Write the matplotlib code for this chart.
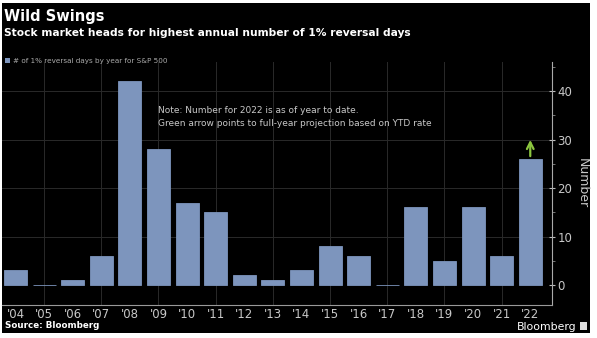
import numpy as np
import matplotlib.pyplot as plt
from matplotlib.patches import Rectangle

# reversal days per year, 2022 is year to date
years = ["'04", "'05", "'06", "'07", "'08", "'09", "'10", "'11", "'12", "'13",
         "'14", "'15", "'16", "'17", "'18", "'19", "'20", "'21", "'22"]
days = [3, 0, 1, 6, 42, 28, 17, 15, 2, 1, 3, 8, 6, 0, 16, 5, 16, 6, 26]
projection_2022 = 30

bar_color = "#7d95bd"
text_grey = "#c8c8c8"
grid_grey = "#2a2a2a"

fig = plt.figure(figsize=(5.97, 3.38), dpi=100, facecolor="white")
fig.patches.append(Rectangle((2 / 597, 0.015), 588 / 597, 0.976,
                             transform=fig.transFigure, facecolor="black",
                             edgecolor="none", zorder=-10))

ax = fig.add_axes([2 / 597, 1 - 305 / 338, 550 / 597, 243 / 338])
ax.set_facecolor("black")

x = np.arange(len(years))
ax.bar(x, days, width=0.8, color=bar_color, edgecolor=bar_color, linewidth=0.6, zorder=3)

# arrow to full-year projection
ax.annotate("", xy=(x[-1], projection_2022 + 0.5), xytext=(x[-1], days[-1]),
            arrowprops=dict(arrowstyle="->", color="#8cc63f", lw=1.6,
                            mutation_scale=12), zorder=4)

ax.set_xlim(-0.472, 18.76)
ax.set_ylim(-4.12, 45.98)

ax.set_xticks(x)
ax.set_xticklabels(years)
ax.set_yticks([0, 10, 20, 30, 40])
ax.set_yticks([5, 15, 25, 35, 45], minor=True)
ax.yaxis.tick_right()
ax.tick_params(axis="x", length=0, colors=text_grey, labelsize=8.5, pad=2)
ax.tick_params(axis="y", which="major", length=4, direction="inout", width=0.8,
               color="#bbbbbb", labelcolor=text_grey, labelsize=8.5, pad=2)
ax.tick_params(axis="y", which="minor", length=2, direction="out", width=0.6,
               color="#888888")

# grid: horizontal at major y ticks, vertical at odd years
for yv in [10, 20, 30, 40]:
    ax.axhline(yv, color=grid_grey, lw=0.7, zorder=1)
for xv in x[1::2]:
    ax.axvline(xv, color=grid_grey, lw=0.7, zorder=1)

for side in ["left", "top"]:
    ax.spines[side].set_visible(False)
ax.spines["right"].set_color("#aaaaaa")
ax.spines["bottom"].set_color("#999999")
ax.spines["right"].set_linewidth(0.8)
ax.spines["bottom"].set_linewidth(0.8)

ax.yaxis.set_label_position("right")
ax.set_ylabel("Number", color=text_grey, fontsize=9, rotation=270, labelpad=12)

ax.text(5.0, 34.6,
        "Note: Number for 2022 is as of year to date.\n"
        "Green arrow points to full-year projection based on YTD rate",
        color=text_grey, fontsize=6.5, linespacing=1.65, va="center", ha="left")

# titles and legend
fig.text(4 / 597, 1 - 16 / 338, "Wild Swings", color="white", fontsize=10.5,
         fontweight="bold", va="center", ha="left")
fig.text(4 / 597, 1 - 33 / 338,
         "Stock market heads for highest annual number of 1% reversal days",
         color="white", fontsize=7.7, fontweight="bold", va="center", ha="left")
fig.patches.append(Rectangle((5 / 597, 1 - 63 / 338), 5 / 597, 5 / 338,
                             transform=fig.transFigure, facecolor=bar_color,
                             edgecolor="none"))
fig.text(13 / 597, 1 - 60.5 / 338, "# of 1% reversal days by year for S&P 500",
         color="#aaaaaa", fontsize=5.2, va="center", ha="left")

fig.text(5 / 597, 1 - 326 / 338, "Source: Bloomberg", color="white", fontsize=6.3,
         fontweight="bold", va="center", ha="left")
fig.text(576 / 597, 1 - 326.5 / 338, "Bloomberg", color="white", fontsize=7.8,
         va="center", ha="right")
fig.patches.append(Rectangle((580 / 597, 1 - 330 / 338), 7 / 597, 8 / 338,
                             transform=fig.transFigure, facecolor="#dddddd",
                             edgecolor="none"))

fig.savefig("out.png", dpi=100, facecolor="white")
